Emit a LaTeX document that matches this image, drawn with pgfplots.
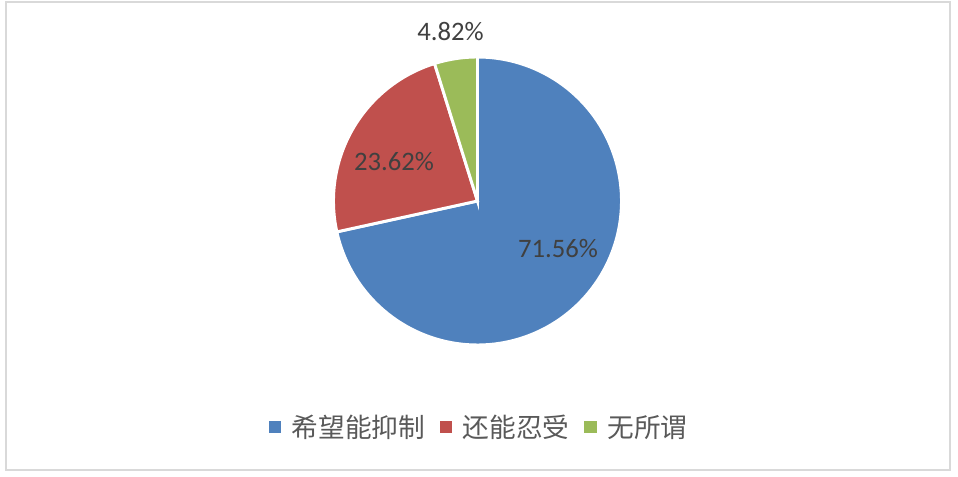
\documentclass[border=0pt]{standalone}
\usepackage{pgfplots}
\usepackage{pgfplotstable}
\usepackage{fontspec}
\pgfplotsset{compat=1.18}
\setmainfont{Carlito}
\newfontfamily\cjk{Noto Sans CJK SC}

\definecolor{pieblue}{HTML}{4F81BD}
\definecolor{piered}{HTML}{C0504D}
\definecolor{piegreen}{HTML}{9BBB59}
\definecolor{labelgrey}{HTML}{404040}
\definecolor{legendgrey}{HTML}{595959}
\definecolor{framegrey}{HTML}{D9D9D9}

% shares in percent
\pgfplotstableread{
name value
yes  71.56
ok   23.62
none 4.82
}\piedata

\begin{document}
\begin{tikzpicture}
\pgfplotstablegetelem{0}{value}\of\piedata \pgfmathsetmacro\va{\pgfplotsretval}
\pgfplotstablegetelem{1}{value}\of\piedata \pgfmathsetmacro\vb{\pgfplotsretval}
\pgfplotstablegetelem{2}{value}\of\piedata \pgfmathsetmacro\vc{\pgfplotsretval}
% angles, counter-clockwise from 12 o'clock: green, red, then blue
\pgfmathsetmacro\gA{90}
\pgfmathsetmacro\gB{\gA+3.6*\vc}
\pgfmathsetmacro\rB{\gB+3.6*\vb}
\pgfmathsetmacro\bB{\rB+3.6*\va}
\def\cx{477.5}
\def\cy{275}
\def\rr{144}
\begin{axis}[
    width=718.5pt, height=357pt, scale only axis,
    xmin=0, xmax=958, ymin=0, ymax=476,
    hide axis, clip=false,
    legend columns=3,
    legend style={at={(axis cs:478,49)}, anchor=center,
        draw=none, fill=none, inner sep=0pt,
        nodes={inner sep=0pt},
        font=\cjk\fontsize{20pt}{24pt}\selectfont, text=legendgrey,
        /tikz/every odd column/.append style={column sep=8pt},
        /tikz/every even column/.append style={column sep=11pt}},
    legend image code/.code={\fill[#1, draw=none] (0pt,-4.6pt) rectangle (9.4pt,4.6pt);},
    every axis plot/.append style={draw=white, line width=2.2pt, samples=120, variable=\t},
]
\path (axis cs:0,0) rectangle (axis cs:958,476);
\draw[framegrey, line width=1.5pt] (axis cs:6,473.5) rectangle (axis cs:950,6.5);

\addplot[fill=pieblue, domain=\rB:\bB]
    ({\cx+\rr*cos(\t)}, {\cy+\rr*sin(\t)}) -- (axis cs:\cx,\cy) -- cycle;
\addlegendentry{希望能抑制}
\addplot[fill=piered, domain=\gB:\rB]
    ({\cx+\rr*cos(\t)}, {\cy+\rr*sin(\t)}) -- (axis cs:\cx,\cy) -- cycle;
\addlegendentry{还能忍受}
\addplot[fill=piegreen, domain=\gA:\gB]
    ({\cx+\rr*cos(\t)}, {\cy+\rr*sin(\t)}) -- (axis cs:\cx,\cy) -- cycle;
\addlegendentry{无所谓}

\node[text=labelgrey, font=\fontsize{20pt}{24pt}\selectfont] at (axis cs:558,227) {71.56\%};
\node[text=labelgrey, font=\fontsize{20pt}{24pt}\selectfont] at (axis cs:394,314.5) {23.62\%};
\node[text=labelgrey, font=\fontsize{20pt}{24pt}\selectfont] at (axis cs:450.5,444.5) {4.82\%};
\end{axis}
\end{tikzpicture}
\end{document}
